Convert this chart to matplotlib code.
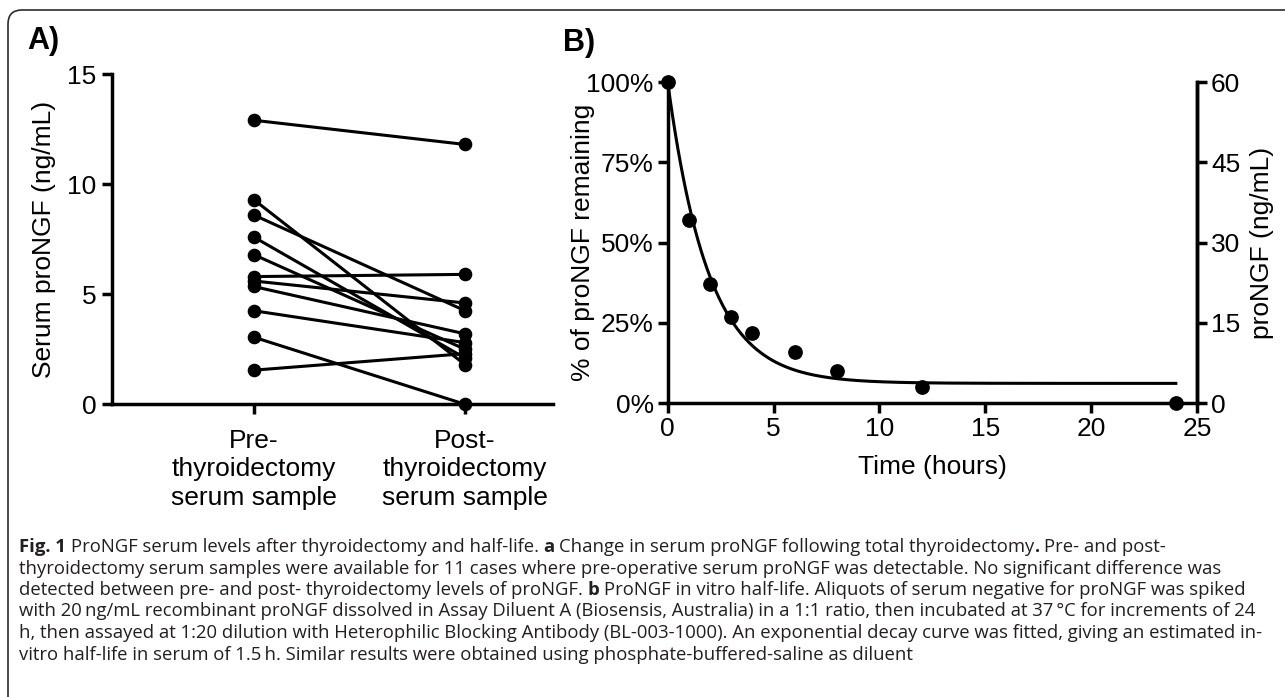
import matplotlib
matplotlib.use("Agg")
import matplotlib.pyplot as plt
import matplotlib.transforms as mtransforms
from matplotlib.patches import FancyBboxPatch
import numpy as np

# ---------------- data ----------------
# Panel A: paired serum proNGF (ng/mL)
categories_a = ["Pre-\nthyroidectomy\nserum sample", "Post-\nthyroidectomy\nserum sample"]
pre_values = [12.9, 9.3, 8.6, 7.6, 6.8, 5.8, 5.6, 5.35, 4.25, 3.05, 1.55]
post_values = [11.8, 1.8, 4.25, 2.1, 2.5, 5.9, 4.6, 3.2, 2.8, 0.0, 2.3]
yticks_a = [0, 5, 10, 15]

# Panel B: proNGF remaining over time
time_hours = [0, 1, 2, 3, 4, 6, 8, 12, 24]
pct_remaining = [100, 57, 37, 27, 22, 16, 10, 5, 0]
fit_top = 100.0      # fitted Y0 (%)
fit_plateau = 6.2    # fitted plateau (%)
fit_k = 0.52         # fitted rate constant (1/h)
fit_tmax = 24
xticks_b = [0, 5, 10, 15, 20, 25]
yticks_b = [0, 25, 50, 75, 100]
yticklabels_b = ["0%", "25%", "50%", "75%", "100%"]
yticks_b_right = [0, 15, 30, 45, 60]

caption_lines = [
    [("Fig. 1", True), (" ProNGF serum levels after thyroidectomy and half-life. ", False), ("a", True),
     (" Change in serum proNGF following total thyroidectomy", False), (".", True), (" Pre- and post-", False)],
    [("thyroidectomy serum samples were available for 11 cases where pre-operative serum proNGF was detectable. No significant difference was", False)],
    [("detected between pre- and post- thyroidectomy levels of proNGF. ", False), ("b", True),
     (" ProNGF in vitro half-life. Aliquots of serum negative for proNGF was spiked", False)],
    [("with 20\u2009ng/mL recombinant proNGF dissolved in Assay Diluent A (Biosensis, Australia) in a 1:1 ratio, then incubated at 37\u2009\u00b0C for increments of 24", False)],
    [("h, then assayed at 1:20 dilution with Heterophilic Blocking Antibody (BL-003-1000). An exponential decay curve was fitted, giving an estimated in-", False)],
    [("vitro half-life in serum of 1.5\u2009h. Similar results were obtained using phosphate-buffered-saline as diluent", False)],
]

# ---------------- style ----------------
W, H = 1285, 697
CH = ["Liberation Sans", "DejaVu Sans"]
CAP = ["Open Sans", "DejaVu Sans"]
plt.rcParams["font.family"] = CH
FS = 19
LW_AX = 2.5
LW_DATA = 2.2

fig = plt.figure(figsize=(W / 100, H / 100), dpi=100)
fig.patch.set_facecolor("white")


def fx(px):
    return px / W


def fy(py):
    return 1 - py / H


# figure frame (rounded top-left, open to right/bottom)
frame = FancyBboxPatch((8, -40), W + 60, H + 40 - 10, boxstyle="round,pad=0,rounding_size=14",
                       transform=mtransforms.IdentityTransform(), fill=False,
                       edgecolor="#2b2b2b", linewidth=1.2, clip_on=False)
fig.patches.append(frame)

# ---------------- Panel A ----------------
axA = fig.add_axes([fx(112), fy(404.3), (553 - 112) / W, (404.3 - 74) / H])
for pre, post in zip(pre_values, post_values):
    axA.plot([0, 1], [pre, post], color="black", lw=LW_DATA, marker="o", ms=8.8,
             clip_on=False, solid_capstyle="round")
axA.set_xlim(-0.67, 1.416)
axA.set_ylim(0, 15)
axA.set_yticks(yticks_a)
axA.set_xticks([0, 1])
axA.set_xticklabels(categories_a, fontsize=FS, linespacing=1.22)
axA.tick_params(axis="y", labelsize=FS, length=7, width=LW_AX, pad=4)
axA.tick_params(axis="x", labelsize=FS, length=7, width=LW_AX, pad=11)
for s in ["top", "right"]:
    axA.spines[s].set_visible(False)
for s in ["left", "bottom"]:
    axA.spines[s].set_linewidth(LW_AX)
axA.set_ylabel("Serum proNGF (ng/mL)", fontsize=FS)
axA.yaxis.set_label_coords(-0.128, 0.5)
fig.text(fx(27), fy(41), "A)", fontsize=22, fontweight="bold", va="center", ha="left")

# ---------------- Panel B ----------------
axB = fig.add_axes([fx(667.7), fy(403.3), (1197 - 667.7) / W, (403.3 - 82) / H])
t_fit = np.linspace(0, fit_tmax, 400)
y_fit = fit_plateau + (fit_top - fit_plateau) * np.exp(-fit_k * t_fit)
axB.plot(t_fit, y_fit, color="black", lw=LW_DATA, clip_on=False)
axB.plot(time_hours, pct_remaining, "o", color="black", ms=9.6, clip_on=False, zorder=5)
axB.set_xlim(0, 25)
axB.set_ylim(0, 100)
axB.set_xticks(xticks_b)
axB.set_yticks(yticks_b)
axB.set_yticklabels(yticklabels_b)
axB.tick_params(axis="both", labelsize=FS, length=7, width=LW_AX, pad=3)
axB.spines["top"].set_visible(False)
for s in ["left", "bottom", "right"]:
    axB.spines[s].set_linewidth(LW_AX)
axB.set_xlabel("Time (hours)", fontsize=FS)
axB.xaxis.set_label_coords(0.5, -0.16)
axB.set_ylabel("% of proNGF remaining", fontsize=FS)
axB.yaxis.set_label_coords(-0.137, 0.5)

axR = axB.twinx()
axR.set_ylim(0, 60)
axR.set_yticks(yticks_b_right)
axR.tick_params(axis="y", labelsize=FS, length=7, width=LW_AX, pad=3)
axR.spines["top"].set_visible(False)
axR.spines["left"].set_visible(False)
axR.spines["bottom"].set_visible(False)
axR.spines["right"].set_linewidth(LW_AX)
axR.set_ylabel("proNGF (ng/mL)", fontsize=FS)
axR.yaxis.set_label_coords(1.10, 0.5)
fig.text(fx(563), fy(43), "B)", fontsize=22, fontweight="bold", va="center", ha="left")

# ---------------- caption ----------------
renderer = fig.canvas.get_renderer()
ident = mtransforms.IdentityTransform()
CFS = 13.3


def text_w(s, bold):
    t = fig.text(0, 0, s, fontsize=CFS, family=CAP, fontweight="bold" if bold else "normal",
                 transform=ident)
    w = t.get_window_extent(renderer).width
    t.remove()
    return w


space_w = text_w("x x", False) - text_w("xx", False)
y0 = 547
dy = 21.5
for i, segs in enumerate(caption_lines):
    x = 19
    y = H - (y0 + i * dy)
    for s, bold in segs:
        lead = len(s) - len(s.lstrip(" "))
        trail = len(s) - len(s.rstrip(" "))
        core = s.strip(" ")
        x += lead * space_w
        t = fig.text(x, y, core, fontsize=CFS, family=CAP, color="#231f20",
                     fontweight="bold" if bold else "normal", transform=ident, va="center", ha="left")
        x += t.get_window_extent(renderer).width
        x += trail * space_w

fig.savefig("out.png", dpi=100, facecolor="white")
